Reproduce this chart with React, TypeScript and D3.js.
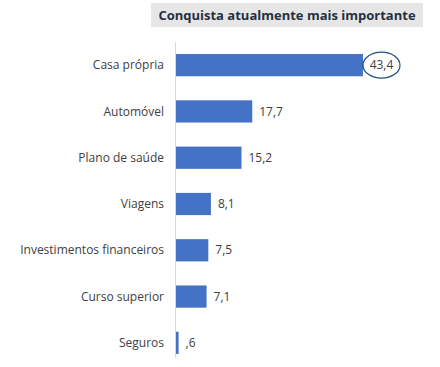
import React from "react";
import * as d3 from "d3";

const categories = ["Casa própria", "Automóvel", "Plano de saúde", "Viagens", "Investimentos financeiros", "Curso superior", "Seguros"];
const values = [43.4, 17.7, 15.2, 8.1, 7.5, 7.1, 0.6];
const labels = ["43,4", "17,7", "15,2", "8,1", "7,5", "7,1", ",6"];
const title = "Conquista atualmente mais importante";

export default function App() {
  const W = 440, H = 367;
  const x0 = 176;
  const x = d3.scaleLinear().domain([0, 43.4]).range([x0, 363]);
  const y = d3.scaleBand().domain(categories).range([42, 366]).paddingInner(0.52).paddingOuter(0.26);
  const font = "'Open Sans', 'Noto Sans', sans-serif";
  return (
    <svg width={W} height={H} style={{ position: "absolute", left: 0, top: 0, background: "#fff" }}>
      <rect x={151} y={3} width={272} height={24} fill="#e7e6e6" />
      <text x={287} y={20} textAnchor="middle" fontFamily={font} fontWeight={700} fontSize={13} fill="#253042">{title}</text>
      <line x1={x0 - 0.5} x2={x0 - 0.5} y1={42} y2={358} stroke="#d9d9d9" strokeWidth={1} />
      {categories.map((c, i) => {
        const yy = y(c)!;
        const bw = y.bandwidth();
        const cy = yy + bw / 2;
        const xe = x(values[i]);
        return (
          <g key={c}>
            <rect x={x0} y={yy} width={xe - x0} height={bw} fill="#4472c4" />
            <text x={164} y={cy} dy="0.35em" textAnchor="end" fontFamily={font} fontSize={12} fill="#404040">{c}</text>
            {i === 0 ? (
              <>
                <ellipse cx={xe + 18.5} cy={cy} rx={18.5} ry={13} fill="none" stroke="#1f4e79" strokeWidth={1.2} />
                <text x={xe + 18.5} y={cy} dy="0.35em" textAnchor="middle" fontFamily={font} fontSize={12} fill="#404040">{labels[i]}</text>
              </>
            ) : (
              <text x={xe + 7} y={cy} dy="0.35em" fontFamily={font} fontSize={12} fill="#404040">{labels[i]}</text>
            )}
          </g>
        );
      })}
    </svg>
  );
}
